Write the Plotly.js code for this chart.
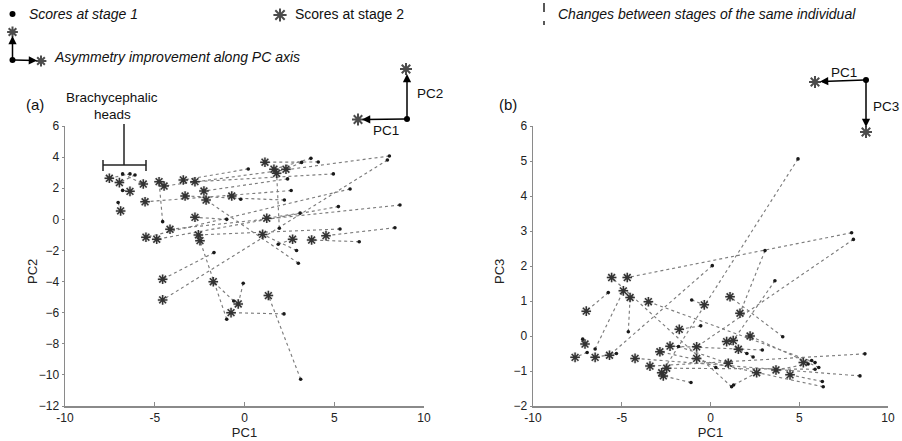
<!DOCTYPE html>
<html><head><meta charset="utf-8">
<script src="https://cdn.plot.ly/plotly-3.0.1.min.js"></script>
<style>html,body{margin:0;padding:0;background:#fff}#chart{width:902px;height:441px}</style>
</head><body><div id="chart"></div>
<script>
// ---- Panel (a): PC1 vs PC2, stage 1 (dots) and stage 2 (stars) ----
const A_PC1_stage1 = [-6.38,-7.04,-6.79,-6.79,-4.56, 7.96, 8.07, 0.21, 4.11, 3.70, 3.18, 4.95, 5.88,-0.21, 2.22, 1.94, 5.23, 8.66, 8.38, 6.39, 5.32, 2.90, 3.00,-1.70,-0.99,-0.07, 2.20, 3.13,-0.99, 1.88,-0.60, 3.10, 2.40,-6.10, 2.60];
const A_PC2_stage1 = [ 2.92, 1.08, 1.86, 2.92,-0.15, 3.81, 4.07, 3.24, 3.69, 3.92, 3.66, 2.92, 1.95, 1.29, 1.24,-0.57, 0.82, 0.92,-0.54,-1.44,-0.62,-2.00,-2.82,-2.14,-6.42,-4.11,-6.08,-10.28, 0.00,-1.60,-5.25, 0.40, 2.60, 2.85, 1.85];
const A_PC1_stage2 = [-7.53,-6.90,-6.38,-5.64,-4.76,-4.56,-4.48,-3.41, 1.14, 1.64, 2.31,-2.76,-5.49,-0.71,-3.31, 1.79,-4.89,-4.15, 4.54, 3.74,-2.57, 1.01,-2.14,-4.56,-2.48,-0.35,-0.75, 1.33,-2.76, 2.68,-1.74, 1.24,-2.26,-6.97,-5.54];
const A_PC2_stage2 = [ 2.64, 0.54, 1.80, 2.27, 2.42,-5.18, 2.14, 2.53, 3.67, 3.22, 3.22, 2.42,-1.15, 1.50, 1.50, 2.96,-1.28,-0.64,-1.05,-1.33,-1.00,-0.97, 1.24,-3.85,-1.37,-5.44,-6.00,-4.90, 0.13,-1.28,-4.01, 0.07, 1.82, 2.36, 1.13];

// ---- Panel (b): PC1 vs PC3 ----
const B_PC1_stage1 = [ 7.95, 8.05, 4.93, 3.07, 0.10,-5.76,-4.63,-7.20,-6.50, 1.19, 5.89,-0.55,-1.06, 4.07, 3.63,-6.95,-5.30, 8.42, 8.70, 6.35, 5.89,-1.10, 2.92, 0.30, 2.40, 6.10, 1.30, 5.50, 6.30, 5.70, 2.05,-1.80];
const B_PC3_stage1 = [ 2.95, 2.76, 5.06, 2.44, 2.01, 1.24, 0.12,-0.09,-0.37,-1.45,-0.76, 0.29, 1.03,-0.02, 1.58,-0.47,-0.50,-1.14,-0.51,-1.45,-0.95,-1.33,-0.40,-0.90,-0.60,-0.90,-1.40,-0.80,-1.30,-0.70,-0.50,-0.30];
const B_PC1_stage2 = [-4.69,-0.78,-2.75, 1.66,-5.69,-7.00,-4.53,-7.07,-4.91,-5.57,-3.50,-1.76,-0.35, 1.10, 1.28,-7.63,-6.50,-4.25,-3.41,-2.85,-2.47,-2.66,-2.28,-0.78, 0.91, 2.23, 2.60, 3.69, 4.48, 5.23, 1.57, 1.00];
const B_PC3_stage2 = [ 1.67,-0.31,-1.05, 0.65,-0.55, 0.71, 1.10,-0.23, 1.29, 1.67, 0.98, 0.19, 0.89, 1.12,-0.13,-0.61,-0.61,-0.64,-0.86,-0.45,-0.92,-1.14,-0.29,-0.64,-0.16, 0.00,-1.05,-0.97,-1.11,-0.76,-0.38,-0.78];

const xTicks = [-10,-5,0,5,10];

function segs(x1, y1, x2, y2) {
  const X = [], Y = [];
  for (let i = 0; i < x1.length; i++) { X.push(x1[i], x2[i], null); Y.push(y1[i], y2[i], null); }
  return {X, Y};
}
const FONT = 'Liberation Sans, Arial, sans-serif';
const NARROW = 'Liberation Sans Narrow, Liberation Sans, Arial, sans-serif';

function panelTraces(x1, y1, x2, y2, xa, ya) {
  const s = segs(x1, y1, x2, y2);
  return [
    {x: s.X, y: s.Y, xaxis: xa, yaxis: ya, mode: 'lines', connectgaps: false, hoverinfo: 'skip',
     line: {color: '#7c7c7c', width: 1.15, dash: 'dot'}},
    {x: x2, y: y2, xaxis: xa, yaxis: ya, mode: 'markers', hoverinfo: 'skip',
     marker: {symbol: 'circle', size: 10, color: 'rgba(0,0,0,0.09)'}},
    {x: x1, y: y1, xaxis: xa, yaxis: ya, mode: 'markers',
     marker: {symbol: 'circle', size: 3.6, color: '#1a1a1a'}},
    {x: x2, y: y2, xaxis: xa, yaxis: ya, mode: 'markers',
     marker: {symbol: 'asterisk-open', size: 8, color: '#333', line: {color: '#333', width: 1.5}}}
  ];
}

// decoration layer (pixel coordinates on a hidden full-page axis)
const deco = [
  {x: [12.5, 12.5, 407, 866], y: [14, 60, 119, 80], xaxis: 'x3', yaxis: 'y3', mode: 'markers',
   marker: {symbol: 'circle', size: 6, color: '#000'}},
  {x: [280, 12.5, 41, 406, 358, 815, 866], y: [15, 32, 61, 69, 119.5, 82, 132], xaxis: 'x3', yaxis: 'y3', mode: 'markers',
   marker: {symbol: 'asterisk-open', size: [11, 9, 9, 10, 10, 10, 10], color: '#000', line: {color: '#000', width: 2}}}
];

const traces = [
  ...panelTraces(A_PC1_stage1, A_PC2_stage1, A_PC1_stage2, A_PC2_stage2, 'x', 'y'),
  ...panelTraces(B_PC1_stage1, B_PC3_stage1, B_PC1_stage2, B_PC3_stage2, 'x2', 'y2'),
  ...deco
];

const W = 902, H = 441;
function axisX(domain) {
  return {domain: domain, range: [-10, 10], tickvals: xTicks, ticktext: xTicks.map(String),
    showgrid: false, zeroline: false, showline: true, linecolor: '#8a8a8a', linewidth: 1.5,
    ticks: 'inside', ticklen: 4, tickcolor: '#8a8a8a', mirror: false,
    tickfont: {family: NARROW, size: 12, color: '#222'},
    title: {text: 'PC1', font: {family: NARROW, size: 13, color: '#222'}, standoff: 4}};
}
function axisY(domain, range, dtick, anchor) {
  return {domain: domain, range: range, dtick: dtick, anchor: anchor,
    showgrid: false, zeroline: false, showline: true, linecolor: '#8a8a8a', linewidth: 1.5,
    ticks: 'outside', ticklen: 2, tickcolor: '#8a8a8a',
    tickfont: {family: NARROW, size: 12, color: '#222'}};
}
const yDom = [1 - 406 / H, 1 - 126 / H];

function arrow(x0, y0, x1, y1) {
  return {xref: 'x3', yref: 'y3', axref: 'x3', ayref: 'y3', x: x1, y: y1, ax: x0, ay: y0,
    text: '', showarrow: true, arrowhead: 2, arrowsize: 1.1, arrowwidth: 1.5, arrowcolor: '#000'};
}
function txt(x, y, t, opts) {
  return Object.assign({xref: 'x3', yref: 'y3', x: x, y: y, text: t, showarrow: false,
    xanchor: 'left', yanchor: 'middle', font: {family: FONT, size: 14, color: '#111'}}, opts || {});
}

const layout = {
  width: W, height: H, margin: {l: 0, r: 0, t: 0, b: 0},
  paper_bgcolor: '#fff', plot_bgcolor: 'rgba(0,0,0,0)', showlegend: false,
  xaxis: Object.assign(axisX([65 / W, 424 / W]), {anchor: 'y'}),
  yaxis: axisY(yDom, [-12, 6], 2, 'x'),
  xaxis2: Object.assign(axisX([533 / W, 888 / W]), {anchor: 'y2'}),
  yaxis2: axisY(yDom, [-2, 6], 1, 'x2'),
  xaxis3: {domain: [0, 1], range: [0, W], visible: false, anchor: 'y3', fixedrange: true},
  yaxis3: {domain: [0, 1], range: [H, 0], visible: false, anchor: 'x3', fixedrange: true},
  shapes: [
    {type: 'line', xref: 'x3', yref: 'y3', x0: 544, x1: 544, y0: 3, y1: 25, line: {color: '#222', width: 1.5, dash: 'dash'}},
    {type: 'line', xref: 'x3', yref: 'y3', x0: 124, x1: 124, y0: 124, y1: 165, line: {color: '#222', width: 1.5}},
    {type: 'line', xref: 'x3', yref: 'y3', x0: 103, x1: 146, y0: 165, y1: 165, line: {color: '#222', width: 1.5}},
    {type: 'line', xref: 'x3', yref: 'y3', x0: 103, x1: 103, y0: 160, y1: 171, line: {color: '#222', width: 1.5}},
    {type: 'line', xref: 'x3', yref: 'y3', x0: 146, x1: 146, y0: 160, y1: 171, line: {color: '#222', width: 1.5}}
  ],
  annotations: [
    txt(27, 14, '<i>Scores at stage 1</i>'),
    txt(293, 14, 'Scores at stage 2'),
    txt(556, 14, '<i>Changes between stages of the same individual</i>'),
    txt(52, 57, '<i>Asymmetry improvement along PC axis</i>'),
    txt(24, 104, '(a)', {font: {family: FONT, size: 15, color: '#111'}}),
    txt(497, 104, '(b)', {font: {family: FONT, size: 15, color: '#111'}}),
    txt(112, 97, 'Brachycephalic', {xanchor: 'center', font: {family: FONT, size: 13.5, color: '#111'}}),
    txt(112, 114, 'heads', {xanchor: 'center', font: {family: FONT, size: 13.5, color: '#111'}}),
    txt(415, 93, 'PC2', {font: {family: FONT, size: 13.5, color: '#111'}}),
    txt(371, 130, 'PC1', {font: {family: FONT, size: 13.5, color: '#111'}}),
    txt(829, 72, 'PC1', {font: {family: FONT, size: 13.5, color: '#111'}}),
    txt(871, 106, 'PC3', {font: {family: FONT, size: 13.5, color: '#111'}}),
    txt(32, 272, 'PC2', {xanchor: 'center', textangle: -90, font: {family: NARROW, size: 13, color: '#222'}}),
    txt(499, 272, 'PC3', {xanchor: 'center', textangle: -90, font: {family: NARROW, size: 13, color: '#222'}}),
    arrow(12.5, 60, 12.5, 36),
    arrow(12.5, 60, 37, 60.5),
    arrow(407, 119, 407, 74),
    arrow(407, 119, 362, 119.5),
    arrow(866, 80, 820, 81.5),
    arrow(866, 80, 866, 127)
  ]
};

Plotly.newPlot('chart', traces, layout, {staticPlot: true, displayModeBar: false});
</script></body></html>
